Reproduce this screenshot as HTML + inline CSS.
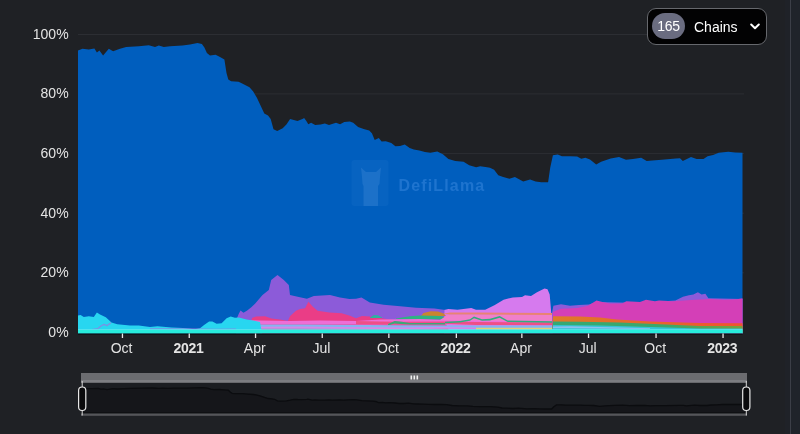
<!DOCTYPE html>
<html><head><meta charset="utf-8">
<style>
html,body{margin:0;padding:0;}
body{width:800px;height:434px;overflow:hidden;background:#1f2125;position:relative;font-family:"Liberation Sans",sans-serif;}
svg{position:absolute;left:0;top:0;}
.main{filter:blur(0.4px);}
.btn{filter:blur(0.25px);}
.rstrip{position:absolute;left:785px;top:0;width:5px;height:434px;background:#1f2228;}
.rline{position:absolute;left:790px;top:0;width:1px;height:434px;background:#3b3e47;}
.rbg{position:absolute;left:791px;top:0;width:9px;height:434px;background:#1f232a;}
.btn{position:absolute;left:647px;top:8px;width:118px;height:35px;border:1px solid #66686d;border-radius:9px;background:#020203;}
.badge{position:absolute;left:4px;top:4px;width:33px;height:26px;border-radius:13px;background:#6a6c80;color:#fff;font-size:14px;line-height:26px;text-align:center;letter-spacing:-0.3px;}
.lbl{position:absolute;left:46px;top:1px;line-height:35px;color:#fff;font-size:14px;}
.chev{position:absolute;left:102px;top:14px;}
</style></head><body>
<div class="rstrip"></div><div class="rline"></div><div class="rbg"></div>
<svg class="main" width="800" height="434" viewBox="0 0 800 434" font-family="Liberation Sans, sans-serif">
<defs><linearGradient id="gor" x1="552" y1="0" x2="743" y2="0" gradientUnits="userSpaceOnUse"><stop offset="0" stop-color="#e07a28"/><stop offset="1" stop-color="#ee5430"/></linearGradient>
<linearGradient id="ggr" x1="552" y1="0" x2="743" y2="0" gradientUnits="userSpaceOnUse"><stop offset="0" stop-color="#36a874"/><stop offset="0.6" stop-color="#3aa86a"/><stop offset="1" stop-color="#7a9e3c"/></linearGradient></defs>
<rect x="78" y="34.0" width="666" height="1" fill="#2c2e33"/>
<rect x="78" y="93.4" width="666" height="1" fill="#2c2e33"/>
<rect x="78" y="153.1" width="666" height="1" fill="#2c2e33"/>
<rect x="78" y="212.7" width="666" height="1" fill="#2c2e33"/>
<rect x="78" y="272.3" width="666" height="1" fill="#2c2e33"/>
<polygon points="78.0,333.5 78.0,50.6 82.5,48.8 88.8,49.4 94.4,48.5 96.9,52.5 99.4,50.6 103.1,55.6 108.8,48.8 113.1,51.2 120.0,48.8 126.2,46.9 138.8,46.2 148.8,45.2 155.0,46.9 158.8,45.6 163.8,46.9 170.0,46.2 182.5,45.6 190.0,44.4 197.5,43.1 201.9,44.0 204.4,47.5 206.9,53.1 210.0,55.6 215.6,54.8 220.0,56.9 224.4,59.4 226.5,72.9 228.3,79.4 231.1,81.2 238.5,81.8 241.2,83.1 249.5,87.3 253.2,91.4 256.9,97.8 264.3,113.5 268.0,115.4 270.7,119.0 273.5,129.2 277.2,131.0 282.7,128.3 286.4,124.6 290.1,119.0 293.8,120.0 297.5,120.9 303.0,118.7 304.1,118.0 306.2,120.7 308.3,124.2 311.1,122.8 315.2,124.9 320.7,124.6 324.9,123.5 329.0,124.9 336.0,122.8 340.1,124.2 344.3,122.1 349.8,121.4 353.2,122.8 358.1,127.0 363.6,129.0 369.2,130.4 371.9,133.2 374.7,140.1 378.8,138.0 381.6,141.5 385.8,141.2 391.3,142.9 395.4,146.3 400.0,146.0 404.8,144.5 409.7,148.0 413.8,149.4 419.4,150.5 424.9,152.1 430.4,152.8 437.3,151.4 442.9,154.2 448.4,159.0 455.3,161.1 463.6,161.8 469.2,165.3 476.1,167.3 480.2,166.2 487.1,167.3 490.0,167.7 494.1,169.7 498.3,175.3 502.4,176.7 509.4,178.7 514.9,177.1 523.2,181.5 530.1,179.4 535.6,181.5 541.2,182.2 548.1,182.2 550.2,167.7 552.9,155.2 557.8,154.5 561.9,156.3 570.2,156.3 577.1,156.6 581.3,158.7 585.4,157.7 590.0,159.5 596.2,164.6 601.1,161.8 610.7,158.4 619.0,157.0 626.0,159.7 632.9,159.0 641.2,157.7 646.7,161.1 652.2,160.4 661.9,159.7 675.8,158.4 680.0,158.3 682.8,161.1 691.0,156.9 696.6,159.0 703.5,159.0 707.6,156.2 713.1,154.9 718.7,152.8 728.3,151.8 735.2,152.4 742.5,152.8 742.5,333.5" fill="#005ebe"/>
<polygon points="236.0,333.5 236.0,333.0 237.0,318.0 238.8,313.8 240.5,310.5 243.5,312.8 247.2,310.5 251.0,307.5 255.0,303.8 262.5,295.0 268.8,290.0 271.2,280.0 277.5,275.0 283.8,280.0 288.8,285.0 290.0,295.0 298.8,297.1 306.9,298.8 313.8,296.0 330.0,295.0 340.0,297.5 349.4,299.0 356.0,298.8 361.5,297.4 369.8,302.5 383.6,304.8 397.5,306.1 416.0,307.8 434.4,308.4 443.6,309.8 450.0,310.0 500.0,312.0 552.0,313.0 553.4,305.7 561.0,304.2 570.0,305.7 579.0,305.0 589.0,304.5 596.5,302.0 640.0,303.0 675.4,300.4 683.0,296.7 688.9,295.2 693.4,294.5 697.9,292.2 701.6,294.5 705.4,293.7 708.4,298.2 742.5,299.0 742.5,333.5" fill="#8c5bd9"/>
<polygon points="444.0,333.5 444.0,333.0 444.5,310.0 448.3,308.9 457.5,309.8 471.3,308.0 476.0,309.8 485.2,309.8 494.4,305.2 503.6,299.7 512.9,297.4 522.0,296.9 525.0,295.2 531.0,296.0 537.0,292.2 544.5,288.5 547.5,289.2 549.7,294.5 551.2,312.5 552.7,333.0 552.7,333.5" fill="#d67aee"/>
<polygon points="552.0,333.5 552.0,333.0 553.0,312.0 555.0,311.0 561.0,308.7 577.4,308.0 588.0,305.7 596.5,300.5 602.5,302.0 610.0,303.5 622.0,303.5 626.4,301.2 640.0,302.0 646.0,299.7 655.0,301.2 659.0,300.4 672.5,301.2 694.9,299.7 709.9,299.0 724.9,299.7 736.8,299.2 742.5,298.2 742.5,333.5" fill="#d43fb7"/>
<polygon points="250.0,333.5 250.0,333.0 252.0,318.0 256.0,316.6 265.0,316.3 271.5,318.5 280.0,319.5 287.8,321.0 290.2,316.1 296.0,310.8 300.1,309.1 305.1,308.3 308.4,301.7 312.6,306.6 317.6,310.8 329.2,312.4 341.6,313.3 350.0,315.8 356.0,318.3 362.0,316.0 370.0,316.5 380.0,318.0 400.0,321.0 420.0,321.3 445.0,321.5 450.0,333.0 450.0,333.5" fill="#ea3d86"/>
<polygon points="421.0,316.0 423.4,313.0 430.8,311.2 438.0,311.5 443.6,313.5 446.0,316.0 421.0,316.0 446.0,316.0" fill="#c98530"/>
<polygon points="370.0,317.5 374.0,315.0 378.0,315.2 382.0,317.5 382.0,318.0 378.0,318.0 374.0,318.0 370.0,318.0" fill="#2fb0a0"/>
<polygon points="396.0,318.5 410.0,316.2 420.0,315.6 440.0,316.0 448.0,318.0 448.0,319.0 440.0,319.5 420.0,319.5 410.0,319.0 396.0,319.0" fill="#2fb282"/>
<polygon points="440.0,320.0 448.0,314.4 476.0,314.4 552.0,314.4 552.0,322.0 476.0,322.0 448.0,322.0 440.0,321.0" fill="#f07fca"/>
<polygon points="444.0,313.5 450.0,312.6 476.0,312.6 552.0,313.0 552.0,315.0 476.0,314.6 450.0,314.6 444.0,314.0" fill="#e98372"/>
<polygon points="236.0,320.0 260.0,320.5 290.0,321.0 320.0,320.5 356.0,321.0 380.0,319.5 420.0,319.0 445.0,320.0 552.0,322.0 552.0,324.5 445.0,324.5 420.0,324.5 380.0,324.5 356.0,324.5 320.0,324.5 290.0,324.5 260.0,324.5 236.0,324.5" fill="#ee6ed6"/>
<polygon points="356.0,321.0 380.0,321.5 400.0,321.8 445.0,321.5 476.0,322.0 552.0,322.5 552.0,325.2 476.0,325.0 445.0,323.8 400.0,324.4 380.0,324.2 356.0,324.2" fill="#ee4f86"/>
<polygon points="445.0,321.8 460.0,321.0 470.0,319.2 474.0,316.5 482.0,319.2 490.0,318.8 499.7,316.0 507.7,320.5 552.0,321.2 552.0,322.8 507.7,322.0 499.7,317.8 490.0,320.5 482.0,320.8 474.0,318.3 470.0,320.8 460.0,322.5 445.0,323.2" fill="#2fae7e"/>
<polygon points="388.0,324.0 394.7,320.9 400.0,321.5 410.0,323.0 445.0,323.0 445.0,324.5 410.0,324.5 400.0,324.0 394.7,323.5 388.0,325.5" fill="#3aa878"/>
<polygon points="236.0,324.5 300.0,324.5 400.0,325.2 476.0,325.5 552.0,325.5 552.0,328.0 476.0,328.0 400.0,329.2 300.0,328.8 236.0,328.8" fill="#86b4f0"/>
<polygon points="260.0,326.8 300.0,326.5 340.0,327.0 400.0,327.5 440.0,327.0 476.0,327.5 476.0,328.5 440.0,328.8 400.0,329.2 340.0,328.8 300.0,328.4 260.0,328.6" fill="#d48ae8"/>
<polygon points="476.0,327.8 552.0,327.8 552.0,330.0 476.0,330.0" fill="#e3cf78"/>
<polygon points="552.0,333.0 553.0,316.2 580.0,316.5 600.0,317.5 617.0,319.5 650.0,321.5 700.0,323.0 742.5,323.2 742.5,333.0 700.0,333.0 650.0,333.0 617.0,333.0 600.0,333.0 580.0,333.0 553.0,333.0 552.0,333.0" fill="url(#gor)"/>
<polygon points="552.0,333.0 553.0,321.5 580.0,321.8 620.0,322.5 660.0,324.2 700.0,326.0 742.5,326.1 742.5,333.0 700.0,333.0 660.0,333.0 620.0,333.0 580.0,333.0 553.0,333.0 552.0,333.0" fill="url(#ggr)"/>
<polygon points="552.0,333.0 553.0,325.0 600.0,325.5 650.0,327.0 700.0,328.6 742.5,328.6 742.5,333.0 700.0,333.0 650.0,333.0 600.0,333.0 553.0,333.0 552.0,333.0" fill="#32c6d6"/>
<polygon points="553.0,326.5 570.0,326.3 600.0,327.0 620.0,327.5 650.0,328.3 650.0,329.0 620.0,328.8 600.0,328.6 570.0,328.2 553.0,328.2" fill="#8cc0f0"/>
<polygon points="78.0,333.5 78.0,315.6 80.6,315.0 83.8,316.9 88.8,316.2 93.8,316.9 96.9,312.5 100.0,314.4 105.8,317.3 111.5,322.5 117.3,324.2 130.0,325.4 138.8,325.5 150.0,326.9 157.5,326.2 171.5,327.5 183.0,328.0 194.6,329.2 200.0,328.2 204.1,324.9 209.1,321.6 212.4,321.6 216.6,323.7 221.6,323.2 226.6,318.3 230.7,316.6 234.9,317.8 239.0,317.5 246.5,319.5 253.1,320.5 260.0,322.0 262.0,333.0 262.0,333.5" fill="#28d6f0"/>
<polyline points="92,329.5 98,328.5 101,326 104,324.5 107,325.5 111,322.8" fill="none" stroke="#9a78e0" stroke-width="1.2" opacity="0.8"/>
<polyline points="150,329 165,328.8 190,329 215,329.3 236,329.2" fill="none" stroke="#9c74e2" stroke-width="1.3" opacity="0.7"/>
<rect x="78" y="329.2" width="664.5" height="1.0" fill="#5fe6ee"/>
<rect x="78" y="330" width="664.5" height="3.5" fill="#28ecdc"/>
<rect x="78" y="333.5" width="664.5" height="1.2" fill="#0d1113"/>
<rect x="121.80000000000001" y="333.5" width="1.3" height="4.5" fill="#e8e8e8"/>
<rect x="188.6" y="333.5" width="1.3" height="4.5" fill="#e8e8e8"/>
<rect x="254.9" y="333.5" width="1.3" height="4.5" fill="#e8e8e8"/>
<rect x="321.59999999999997" y="333.5" width="1.3" height="4.5" fill="#e8e8e8"/>
<rect x="388.2" y="333.5" width="1.3" height="4.5" fill="#e8e8e8"/>
<rect x="455.7" y="333.5" width="1.3" height="4.5" fill="#e8e8e8"/>
<rect x="521.1999999999999" y="333.5" width="1.3" height="4.5" fill="#e8e8e8"/>
<rect x="587.9" y="333.5" width="1.3" height="4.5" fill="#e8e8e8"/>
<rect x="655.4" y="333.5" width="1.3" height="4.5" fill="#e8e8e8"/>
<rect x="722.4" y="333.5" width="1.3" height="4.5" fill="#e8e8e8"/>

<rect x="351.5" y="160" width="37" height="46" rx="3" fill="#8cc4ff" opacity="0.05"/>
<path d="M361 167.5 L366 172 L376 172 L381 167.5 L380 177 L379.5 184 L378 186 L378 206 L363.5 206 L363.5 186 L362.5 184 L362 177 Z" fill="#a8d4ff" opacity="0.13"/>
<text x="398.5" y="190.5" font-family="Liberation Sans" font-weight="bold" font-size="16" letter-spacing="1.15" fill="#3d8ae0" opacity="0.5">DefiLlama</text>

<text x="68.6" y="38.7" text-anchor="end" font-size="14" fill="#e4e4e4">100%</text>
<text x="68.6" y="98.3" text-anchor="end" font-size="14" fill="#e4e4e4">80%</text>
<text x="68.6" y="157.9" text-anchor="end" font-size="14" fill="#e4e4e4">60%</text>
<text x="68.6" y="217.5" text-anchor="end" font-size="14" fill="#e4e4e4">40%</text>
<text x="68.6" y="277.1" text-anchor="end" font-size="14" fill="#e4e4e4">20%</text>
<text x="68.6" y="336.7" text-anchor="end" font-size="14" fill="#e4e4e4">0%</text>

<text x="121.6" y="352.9" text-anchor="middle" font-size="14" fill="#e4e4e4">Oct</text>
<text x="188.4" y="352.9" text-anchor="middle" font-size="14" font-weight="bold" letter-spacing="-0.3" fill="#e4e4e4">2021</text>
<text x="254.7" y="352.9" text-anchor="middle" font-size="14" fill="#e4e4e4">Apr</text>
<text x="321.4" y="352.9" text-anchor="middle" font-size="14" fill="#e4e4e4">Jul</text>
<text x="388.0" y="352.9" text-anchor="middle" font-size="14" fill="#e4e4e4">Oct</text>
<text x="455.5" y="352.9" text-anchor="middle" font-size="14" font-weight="bold" letter-spacing="-0.3" fill="#e4e4e4">2022</text>
<text x="521.0" y="352.9" text-anchor="middle" font-size="14" fill="#e4e4e4">Apr</text>
<text x="587.7" y="352.9" text-anchor="middle" font-size="14" fill="#e4e4e4">Jul</text>
<text x="655.2" y="352.9" text-anchor="middle" font-size="14" fill="#e4e4e4">Oct</text>
<text x="722.2" y="352.9" text-anchor="middle" font-size="14" font-weight="bold" letter-spacing="-0.3" fill="#e4e4e4">2023</text>


<rect x="81" y="382.5" width="666" height="31" fill="#15161a"/>
<polygon points="81.0,382.5 82.0,388.9 86.5,388.6 92.7,388.7 98.4,388.5 100.9,389.2 103.4,388.9 107.1,389.6 112.7,388.6 117.1,389.0 124.0,388.6 130.2,388.3 142.7,388.2 152.7,388.0 158.9,388.3 162.7,388.1 167.7,388.3 173.9,388.2 186.4,388.1 193.9,387.9 201.4,387.7 205.8,387.9 208.3,388.4 210.8,389.2 213.9,389.6 219.5,389.5 223.9,389.8 228.3,390.2 230.4,392.3 232.2,393.3 235.0,393.6 242.4,393.6 245.1,393.8 253.4,394.5 257.1,395.1 260.8,396.1 268.2,398.5 271.9,398.8 274.6,399.3 277.4,400.9 281.1,401.2 286.5,400.8 290.2,400.2 293.9,399.3 297.6,399.5 301.3,399.6 306.8,399.3 307.9,399.2 310.0,399.6 312.1,400.1 314.9,399.9 319.0,400.2 324.5,400.2 328.7,400.0 332.8,400.2 339.8,399.9 343.9,400.1 348.1,399.8 353.6,399.7 357.0,399.9 361.9,400.6 367.4,400.9 373.0,401.1 375.7,401.5 378.5,402.6 382.6,402.3 385.4,402.8 389.6,402.7 395.1,403.0 399.2,403.5 403.8,403.5 408.6,403.2 413.5,403.8 417.5,404.0 423.1,404.2 428.6,404.4 434.1,404.5 441.0,404.3 446.6,404.7 452.1,405.5 459.0,405.8 467.3,405.9 472.9,406.4 479.8,406.7 483.9,406.6 490.8,406.7 493.7,406.8 497.8,407.1 502.0,408.0 506.1,408.2 513.1,408.5 518.6,408.2 526.9,408.9 533.8,408.6 539.3,408.9 544.9,409.0 551.7,409.0 553.8,406.8 556.5,404.9 561.4,404.8 565.5,405.1 573.8,405.1 580.7,405.1 584.9,405.4 589.0,405.3 593.6,405.5 599.8,406.3 604.7,405.9 614.3,405.4 622.6,405.2 629.6,405.6 636.5,405.5 644.8,405.3 650.3,405.8 655.8,405.7 665.5,405.6 679.4,405.4 683.5,405.4 686.3,405.8 694.5,405.1 700.1,405.5 707.0,405.5 711.1,405.0 716.6,404.8 722.2,404.5 731.8,404.4 738.7,404.5 746.0,404.5 747.0,382.5" fill="#1b1d21"/>
<polyline points="82.0,388.9 86.5,388.6 92.7,388.7 98.4,388.5 100.9,389.2 103.4,388.9 107.1,389.6 112.7,388.6 117.1,389.0 124.0,388.6 130.2,388.3 142.7,388.2 152.7,388.0 158.9,388.3 162.7,388.1 167.7,388.3 173.9,388.2 186.4,388.1 193.9,387.9 201.4,387.7 205.8,387.9 208.3,388.4 210.8,389.2 213.9,389.6 219.5,389.5 223.9,389.8 228.3,390.2 230.4,392.3 232.2,393.3 235.0,393.6 242.4,393.6 245.1,393.8 253.4,394.5 257.1,395.1 260.8,396.1 268.2,398.5 271.9,398.8 274.6,399.3 277.4,400.9 281.1,401.2 286.5,400.8 290.2,400.2 293.9,399.3 297.6,399.5 301.3,399.6 306.8,399.3 307.9,399.2 310.0,399.6 312.1,400.1 314.9,399.9 319.0,400.2 324.5,400.2 328.7,400.0 332.8,400.2 339.8,399.9 343.9,400.1 348.1,399.8 353.6,399.7 357.0,399.9 361.9,400.6 367.4,400.9 373.0,401.1 375.7,401.5 378.5,402.6 382.6,402.3 385.4,402.8 389.6,402.7 395.1,403.0 399.2,403.5 403.8,403.5 408.6,403.2 413.5,403.8 417.5,404.0 423.1,404.2 428.6,404.4 434.1,404.5 441.0,404.3 446.6,404.7 452.1,405.5 459.0,405.8 467.3,405.9 472.9,406.4 479.8,406.7 483.9,406.6 490.8,406.7 493.7,406.8 497.8,407.1 502.0,408.0 506.1,408.2 513.1,408.5 518.6,408.2 526.9,408.9 533.8,408.6 539.3,408.9 544.9,409.0 551.7,409.0 553.8,406.8 556.5,404.9 561.4,404.8 565.5,405.1 573.8,405.1 580.7,405.1 584.9,405.4 589.0,405.3 593.6,405.5 599.8,406.3 604.7,405.9 614.3,405.4 622.6,405.2 629.6,405.6 636.5,405.5 644.8,405.3 650.3,405.8 655.8,405.7 665.5,405.6 679.4,405.4 683.5,405.4 686.3,405.8 694.5,405.1 700.1,405.5 707.0,405.5 711.1,405.0 716.6,404.8 722.2,404.5 731.8,404.4 738.7,404.5 746.0,404.5" fill="none" stroke="#0b0c0f" stroke-width="1.3"/>
<rect x="81" y="373" width="666" height="7" fill="#6b6c70"/>
<rect x="81" y="380" width="666" height="2.8" fill="#7d7e82"/>
<rect x="81" y="412" width="666" height="1.5" fill="#0f1013"/>
<rect x="81" y="413.5" width="666" height="2.3" fill="#55565a"/>
<rect x="410.5" y="375.5" width="1.6" height="4" fill="#f2f2f2"/>
<rect x="413.5" y="375.5" width="1.6" height="4" fill="#f2f2f2"/>
<rect x="416.5" y="375.5" width="1.6" height="4" fill="#f2f2f2"/>
<line x1="82.2" y1="381" x2="82.2" y2="415.5" stroke="#d8d8d8" stroke-width="1"/>
<rect x="78.6" y="387" width="7.2" height="23.5" rx="3.5" fill="#0a0a0c" stroke="#e8e8e8" stroke-width="1.2"/>
<line x1="746.3" y1="381" x2="746.3" y2="415.5" stroke="#d8d8d8" stroke-width="1"/>
<rect x="742.7" y="387" width="7.2" height="23.5" rx="3.5" fill="#0a0a0c" stroke="#e8e8e8" stroke-width="1.2"/>

</svg>
<div class="btn"><div class="badge">165</div><div class="lbl">Chains</div>
<svg class="chev" width="10" height="7" viewBox="0 0 10 7"><path d="M1.2 1.5 L5 5.2 L8.8 1.5" fill="none" stroke="#fff" stroke-width="2" stroke-linecap="round" stroke-linejoin="round"/></svg>
</div>
</body></html>
